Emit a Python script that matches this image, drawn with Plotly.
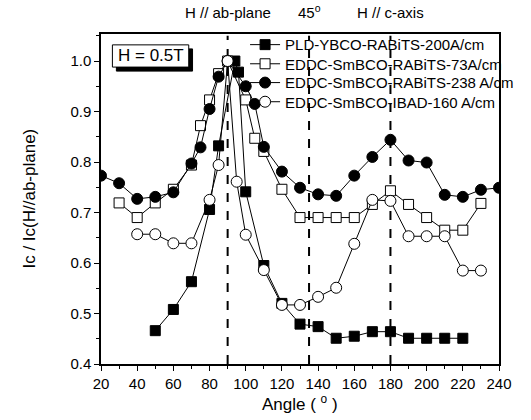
import plotly.graph_objects as go

# ---- data ----
pld_x = [50, 60, 70, 80, 85, 94, 96, 100, 110, 120, 130, 140, 150, 160, 170, 180, 190, 200, 210, 220]
pld_y = [0.466, 0.508, 0.563, 0.706, 0.832, 1.0, 0.978, 0.741, 0.595, 0.52, 0.479, 0.474, 0.451, 0.455, 0.464, 0.464, 0.451, 0.451, 0.451, 0.451]

r73_x = [30, 40, 50, 60, 70, 75, 80, 85, 90, 100, 105, 110, 120, 130, 140, 150, 160, 170, 180, 190, 200, 210, 220, 230]
r73_y = [0.719, 0.690, 0.719, 0.746, 0.794, 0.872, 0.923, 0.975, 1.0, 0.923, 0.847, 0.821, 0.746, 0.690, 0.690, 0.690, 0.690, 0.716, 0.743, 0.716, 0.690, 0.665, 0.665, 0.718]

r238_x = [20, 30, 40, 50, 60, 70, 75, 80, 85, 90, 100, 105, 110, 120, 130, 140, 150, 160, 170, 180, 190, 200, 210, 220, 230, 240]
r238_y = [0.773, 0.758, 0.727, 0.731, 0.740, 0.797, 0.829, 0.905, 0.969, 1.0, 0.950, 0.915, 0.830, 0.781, 0.749, 0.736, 0.733, 0.773, 0.810, 0.844, 0.803, 0.799, 0.735, 0.731, 0.745, 0.749]

ibad_x = [40, 50, 60, 70, 80, 85, 90, 95, 100, 110, 120, 130, 140, 150, 160, 170, 180, 190, 200, 210, 220, 230]
ibad_y = [0.657, 0.657, 0.639, 0.639, 0.725, 0.794, 1.0, 0.761, 0.656, 0.586, 0.517, 0.517, 0.533, 0.551, 0.638, 0.725, 0.723, 0.653, 0.653, 0.653, 0.585, 0.585]

names = ["PLD-YBCO-RABiTS-200A/cm", "EDDC-SmBCO-RABiTS-73A/cm",
         "EDDC-SmBCO-RABiTS-238 A/cm", "EDDC-SmBCO-IBAD-160 A/cm"]

guide_angles = [90, 135, 180]
top_labels = ["H // ab-plane", "45<sup>o</sup>", "H // c-axis"]
top_label_x = [90, 135, 180]

x_ticks = list(range(20, 241, 20))
y_ticks = [0.4, 0.5, 0.6, 0.7, 0.8, 0.9, 1.0]

x_title = "Angle ( <sup>o</sup> )"
y_title = "Ic / Ic(H//ab-plane)"
field_label = "H = 0.5T"

FONT = "Liberation Sans, Arial, sans-serif"

fig = go.Figure()
series = [
    (pld_x, pld_y, "square", "black", names[0]),
    (r73_x, r73_y, "square-open", "black", names[1]),
    (r238_x, r238_y, "circle", "black", names[2]),
    (ibad_x, ibad_y, "circle", "white", names[3]),
]
legend_ids = ["legend", "legend2", "legend3", "legend4"]
for (xs, ys, sym, fill, nm), lid in zip(series, legend_ids):
    if sym == "circle":
        marker = dict(symbol="circle", size=11, color=fill, line=dict(color="black", width=1))
    elif sym == "square":
        marker = dict(symbol="square", size=10, color="black", line=dict(color="black", width=1))
    else:
        marker = dict(symbol="square", size=10, color="white", line=dict(color="black", width=1))
    fig.add_trace(go.Scatter(x=xs, y=ys, mode="lines+markers", name=nm, legend=lid,
                             line=dict(color="black", width=1), marker=marker))

for a in guide_angles:
    fig.add_shape(type="line", x0=a, x1=a, y0=0.4, y1=1.05, xref="x", yref="y",
                  line=dict(color="black", width=2, dash="dash"), layer="below")

for lbl, xx in zip(top_labels, top_label_x):
    fig.add_annotation(x=xx, y=1.0, xref="x", yref="paper", yanchor="bottom", yshift=11,
                       text=lbl, showarrow=False, font=dict(family=FONT, size=15, color="black"))

# H = 0.5T box with shadow
fig.add_shape(type="rect", x0=28.5, x1=70.6, y0=0.980, y1=1.024, xref="x", yref="y",
              fillcolor="black", line=dict(color="black", width=1), layer="above")
fig.add_shape(type="rect", x0=26.3, x1=68.5, y0=0.988, y1=1.032, xref="x", yref="y",
              fillcolor="white", line=dict(color="black", width=1), layer="above")
fig.add_annotation(x=47.4, y=1.010, xref="x", yref="y", text=field_label, showarrow=False,
                   font=dict(family=FONT, size=17, color="black"))

# axis titles as annotations
fig.add_annotation(x=0.5, y=-0.118, xref="paper", yref="paper", text=x_title, showarrow=False,
                   yanchor="middle", font=dict(family=FONT, size=17, color="black"))
fig.add_annotation(x=-0.182, y=0.5, xref="paper", yref="paper", text=y_title, showarrow=False,
                   textangle=-90, xanchor="center", font=dict(family=FONT, size=17, color="black"))

axis_common = dict(showline=True, linecolor="black", linewidth=1.5, mirror=True,
                   ticks="outside", tickcolor="black", ticklen=5, tickwidth=1.2,
                   showgrid=False, zeroline=False,
                   tickfont=dict(family=FONT, size=15, color="black"))

legend_rows_y = [0.967, 0.909, 0.852, 0.794]
leg_common = dict(x=0.362, xanchor="left", yanchor="middle", bgcolor="rgba(0,0,0,0)",
                  font=dict(family=FONT, size=15, color="black"), itemwidth=30)

fig.update_layout(
    width=531, height=420,
    margin=dict(l=101, r=13, t=34, b=56),
    paper_bgcolor="white", plot_bgcolor="white",
    showlegend=True,
    legend=dict(y=legend_rows_y[0], **leg_common),
    legend2=dict(y=legend_rows_y[1], **leg_common),
    legend3=dict(y=legend_rows_y[2], **leg_common),
    legend4=dict(y=legend_rows_y[3], **leg_common),
    xaxis=dict(range=[20, 240], tickvals=x_ticks,
               minor=dict(ticks="outside", ticklen=3, dtick=10, tickcolor="black"),
               **axis_common),
    yaxis=dict(range=[0.4, 1.0535], tickvals=y_ticks, tickformat=".1f",
               minor=dict(ticks="outside", ticklen=3, dtick=0.05, tickcolor="black"),
               **axis_common),
)

fig.write_html("out.html", config={"displayModeBar": False, "responsive": False},
               post_script="document.body.style.margin='0';document.body.style.overflow='hidden';")
